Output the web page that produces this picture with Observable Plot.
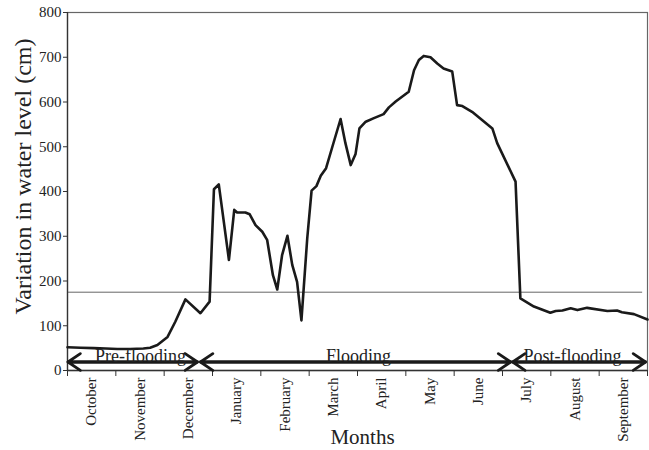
<!DOCTYPE html>
<html><head>
<meta charset="utf-8">
<script src="https://cdn.jsdelivr.net/npm/d3@7"></script>
<script src="https://cdn.jsdelivr.net/npm/@observablehq/plot@0.6"></script>
<style>html,body{margin:0;padding:0;background:#fff} svg{display:block}</style>
</head><body><div id="chart"></div>
<script>
// Months (x axis categories), starting October
const monthNames = ["October","November","December","January","February","March","April","May","June","July","August","September"];
// time in months since 1 October
const t = [0,0.27,0.54,0.79,1.03,1.30,1.57,1.71,1.86,2.07,2.23,2.44,2.75,2.94,3.03,3.13,3.34,3.45,3.51,3.68,3.77,3.89,4.03,4.13,4.25,4.34,4.44,4.55,4.65,4.75,4.84,4.96,5.05,5.15,5.24,5.35,5.48,5.65,5.75,5.86,5.96,6.04,6.17,6.34,6.54,6.65,6.79,7.06,7.17,7.27,7.37,7.51,7.65,7.78,7.96,8.06,8.17,8.37,8.79,8.89,9.27,9.37,9.65,9.99,10.10,10.24,10.41,10.55,10.75,11.17,11.37,11.47,11.72,12.0];
// variation in water level (cm)
const level = [52,51,50,49,48,48,49,51,57,75,109,159,128,154,405,416,247,359,353,353,349,325,310,292,213,181,258,301,236,198,112,295,402,412,435,452,500,562,508,459,484,541,556,564,573,588,601,623,671,694,703,700,686,675,668,593,591,578,541,508,422,161,143,129,133,134,139,135,140,133,134,130,126,114];
const threshold = 175;
const phaseNames = ["Pre-flooding","Flooding","Post-flooding"];
const phaseStart = [0.01, 2.75, 9.21];
const phaseEnd = [2.69, 9.17, 11.96];
const phaseLabelX = [1.51, 6.02, 10.45];
const phaseArrowY = 19;
const yTicks = [0,100,200,300,400,500,600,700,800];
const yLabel = "Variation in water level (cm)";
const xLabel = "Months";

const data = t.map((x, i) => ({x, y: level[i]}));
const phases = phaseNames.map((name, i) => ({name, x1: phaseStart[i], x2: phaseEnd[i], xm: phaseLabelX[i], y: phaseArrowY}));
const font = "'Liberation Serif', 'Times New Roman', serif";
const arrowOpts = {y1: "y", y2: "y", stroke: "#1a1a1a", strokeWidth: 2.8, headLength: 8, headAngle: 68, inset: 0};

const plot = Plot.plot({
  width: 649, height: 450,
  marginLeft: 67, marginRight: 2, marginTop: 12, marginBottom: 80,
  x: {domain: [0, 12]},
  y: {domain: [0, 800]},
  style: {fontFamily: font, fontSize: "15px", color: "#222", background: "#fff"},
  marks: [
    Plot.frame({stroke: "#666", strokeWidth: 1.2}),
    Plot.ruleY([threshold], {x1: 0, x2: 11.9, stroke: "#666", strokeWidth: 1}),
    Plot.axisY({ticks: yTicks, tickSize: 4, tickPadding: 2, label: null, fontSize: 15, stroke: "#333"}),
    Plot.axisX({ticks: d3.range(13), tickSize: 6, tickFormat: () => "", label: null, stroke: "#333"}),
    Plot.axisX({ticks: monthNames.map((_, i) => i + 0.5), tickSize: 0, tickPadding: 7, tickRotate: -90,
      tickFormat: v => monthNames[Math.floor(v)], label: null, fontSize: 15}),
    Plot.ruleX([0], {stroke: "#333", strokeWidth: 1.3}),
    Plot.ruleY([0], {stroke: "#333", strokeWidth: 1.3}),
    Plot.line(data, {x: "x", y: "y", stroke: "#1a1a1a", strokeWidth: 2.6, strokeLinejoin: "round"}),
    Plot.arrow(phases, {...arrowOpts, x1: "x1", x2: "x2"}),
    Plot.arrow(phases, {...arrowOpts, x1: "x2", x2: "x1"}),
    Plot.text(phases, {x: "xm", y: "y", text: "name", fontSize: 18, lineAnchor: "bottom", dy: 0, fill: "#222"}),
    Plot.text([yLabel], {text: d => d, frameAnchor: "left", textAnchor: "middle", dx: -44, dy: -15, rotate: -90, fontSize: 24, fill: "#222"}),
    Plot.text([xLabel], {text: d => d, frameAnchor: "bottom", lineAnchor: "middle", dx: 5, dy: 67, fontSize: 21, fill: "#222"})
  ]
});
document.getElementById("chart").appendChild(plot);
</script>
</body></html>
